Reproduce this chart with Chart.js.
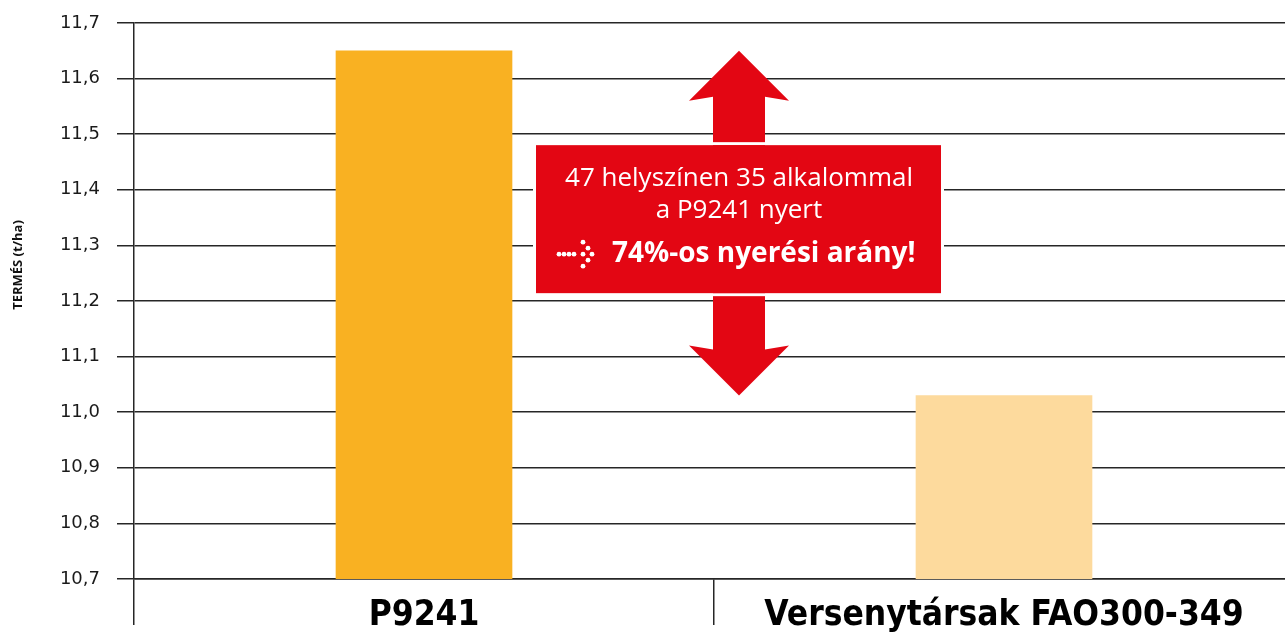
<!DOCTYPE html>
<html>
<head>
<meta charset="utf-8">
<script src="https://cdn.jsdelivr.net/npm/chart.js@4"></script>
<style>
    html, body { margin: 0; padding: 0; overflow: hidden; background: #fff; }
    #canvas-container { width: 1294px; height: 633px; }
</style>
</head>
<body>
<div id="canvas-container"><canvas id="bar-chart"></canvas></div>
<script>
// chart data
const categories = ['P9241', 'Versenytársak FAO300-349'];
const yield_values = [11.65, 11.03];
const bar_colors = ['#F9B122', '#FDDA9D'];
const y_min = 10.7;
const y_max = 11.7;
const y_step = 0.1;
const y_title = 'TERMÉS (t/ha)';
const callout_lines = ['47 helyszínen 35 alkalommal', 'a P9241 nyert'];
const callout_highlight = '74%-os nyerési arány!';

const line_color = '#262626';
const red = '#E30613';

// red double arrow + text box between the two bars
const callout_plugin = {
    id: 'callout',
    afterDatasetsDraw(chart) {
        const ctx = chart.ctx;
        const x = chart.scales.x;
        const y = chart.scales.y;
        const cx = (x.getPixelForValue(0) + x.getPixelForValue(1)) / 2 + 25;
        const top = y.getPixelForValue(yield_values[0]);
        const bottom = y.getPixelForValue(yield_values[1]);

        ctx.save();
        ctx.fillStyle = red;
        ctx.beginPath();
        ctx.moveTo(cx, top);
        ctx.lineTo(cx + 50, top + 50);
        ctx.lineTo(cx + 26, top + 46);
        ctx.lineTo(cx + 26, bottom - 46);
        ctx.lineTo(cx + 50, bottom - 50);
        ctx.lineTo(cx, bottom);
        ctx.lineTo(cx - 50, bottom - 50);
        ctx.lineTo(cx - 26, bottom - 46);
        ctx.lineTo(cx - 26, top + 46);
        ctx.lineTo(cx - 50, top + 50);
        ctx.closePath();
        ctx.fill();

        // box
        const mid = (top + bottom) / 2 - 4;
        const bx = cx - 203, bw = 405, by = mid - 74, bh = 148;
        ctx.strokeStyle = '#fff';
        ctx.lineWidth = 3;
        ctx.strokeRect(bx - 1.5, by - 1.5, bw + 3, bh + 3);
        ctx.fillRect(bx, by, bw, bh);

        ctx.fillStyle = '#fff';
        ctx.textAlign = 'center';
        ctx.textBaseline = 'middle';
        ctx.font = '26px "Open Sans"';
        ctx.fillText(callout_lines[0], cx, by + 33);
        ctx.fillText(callout_lines[1], cx, by + 65);

        ctx.font = 'bold 28px "Open Sans"';
        ctx.textAlign = 'left';
        const ty = by + 109;
        ctx.fillText(callout_highlight, cx - 127, ty);

        // dotted arrow icon
        const dots = [[-180, 0], [-175, 0], [-170, 0], [-165, 0], [-156, 0],
                      [-156, -12], [-151, -6], [-147, 0], [-151, 6], [-156, 12]];
        dots.forEach(d => {
            ctx.beginPath();
            ctx.arc(cx + d[0], ty + d[1], 2.4, 0, Math.PI * 2);
            ctx.fill();
        });
        ctx.restore();
    }
};

// rotated y axis title
const y_title_plugin = {
    id: 'yTitle',
    afterDraw(chart) {
        const ctx = chart.ctx;
        ctx.save();
        ctx.translate(18, 265);
        ctx.rotate(-Math.PI / 2);
        ctx.fillStyle = '#111';
        ctx.font = 'bold 13px "Open Sans"';
        ctx.textAlign = 'center';
        ctx.textBaseline = 'middle';
        ctx.fillText(y_title, 0, 0);
        ctx.restore();
    }
};

const chart = new Chart(document.getElementById('bar-chart'), {
    type: 'bar',
    data: {
        labels: categories,
        datasets: [{
            data: yield_values,
            backgroundColor: bar_colors,
            borderWidth: 0,
            barThickness: 176
        }]
    },
    options: {
        responsive: true,
        maintainAspectRatio: false,
        animation: false,
        plugins: {
            legend: { display: false },
            tooltip: { enabled: false }
        },
        layout: {
            padding: { top: 23, right: 0, left: 0, bottom: 0 }
        },
        scales: {
            x: {
                grid: {
                    offset: true,
                    drawOnChartArea: false,
                    drawTicks: true,
                    tickLength: 46,
                    color: line_color,
                    lineWidth: 1.5
                },
                border: { display: true, color: line_color, width: 1.5 },
                ticks: {
                    color: '#000',
                    padding: -30,
                    maxRotation: 0,
                    autoSkip: false,
                    font: { family: '"DejaVu Sans Condensed", Roboto, sans-serif', size: 35, weight: 'bold' }
                },
                afterFit(scale) {
                    scale.height = 54;
                    scale.paddingLeft = 0;
                    scale.paddingRight = 0;
                }
            },
            y: {
                min: y_min,
                max: y_max,
                grid: {
                    color: line_color,
                    lineWidth: 1.5,
                    tickLength: 17
                },
                border: { display: true, color: line_color, width: 1.5 },
                ticks: {
                    stepSize: y_step,
                    padding: 17,
                    color: '#1a1a1a',
                    font: { family: '"DejaVu Sans"', size: 18 },
                    callback: v => v.toFixed(1).replace('.', ',')
                },
                afterFit(scale) {
                    scale.width = 134;
                    scale.paddingTop = 0;
                    scale.paddingBottom = 0;
                }
            }
        }
    },
    plugins: [callout_plugin, y_title_plugin]
});
</script>
</body>
</html>
